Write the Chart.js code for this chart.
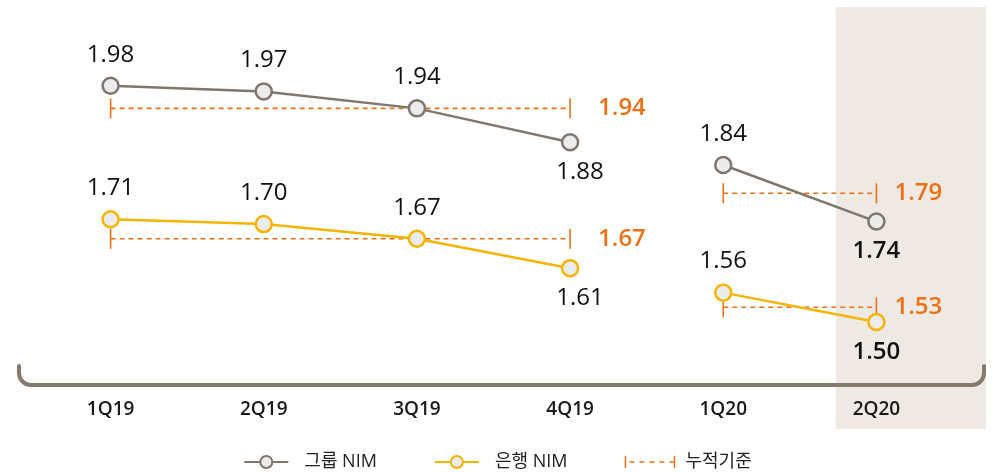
<!DOCTYPE html>
<html lang="ko">
<head>
<meta charset="utf-8">
<title>NIM</title>
<script src="https://cdn.jsdelivr.net/npm/chart.js@4.4.1/dist/chart.umd.min.js"></script>
<style>
  html, body { margin: 0; padding: 0; background: #fff; }
  canvas { display: block; }
</style>
</head>
<body>
<canvas id="chartNim" width="993" height="472"></canvas>
<script>
// ---- datos ----
const quarters = ['1Q19', '2Q19', '3Q19', '4Q19', '1Q20', '2Q20'];
const groupNim = [1.98, 1.97, 1.94, 1.88, 1.84, 1.74];
const bankNim  = [1.71, 1.70, 1.67, 1.61, 1.56, 1.50];

// 누적기준: 2019 (1Q19-4Q19), 1H20 (1Q20-2Q20)
const cumPeriods = [[0, 3], [4, 5]];
const groupCum = [1.94, 1.79];
const bankCum  = [1.67, 1.53];

const legendLabels = ['그룹 NIM', '은행 NIM', '누적기준'];

// etiquetas debajo del punto (1) o encima (0)
const groupBelow = [0, 0, 0, 1, 0, 1];
const bankBelow  = [0, 0, 0, 1, 0, 1];

const GRAY   = '#7f766c';
const YELLOW = '#f5b400';
const ORANGE = '#ec7014';
const FILL   = '#ebebeb';
const FONT   = '"Open Sans", "Noto Sans CJK KR", sans-serif';
const BREAK  = 3; // sin línea entre 4Q19 y 1Q20

function cumSeries(vals) {
    const out = quarters.map(() => null);
    cumPeriods.forEach(([a, b], k) => {
        out[a] = vals[k];
        out[b] = vals[k];
    });
    return out;
}

const skipBreak = color => ctx => ctx.p0DataIndex === BREAK ? 'rgba(0,0,0,0)' : color;

// ---- fondo 2Q20 + llave del eje + leyenda ----
const decoPlugin = {
    id: 'deco',
    beforeDraw(chart) {
        const ctx = chart.ctx;
        const x = chart.scales.x;
        const step = x.getPixelForValue(5) - x.getPixelForValue(4);
        ctx.save();
        ctx.fillStyle = '#eee9e3';
        const left = x.getPixelForValue(5) - step * 0.265;
        ctx.fillRect(left, 7, 986 - left, 422);

        // llave inferior
        const y0 = 366, y1 = 385, r = 12, xl = 19, xr = 984;
        ctx.strokeStyle = '#857a6e';
        ctx.lineWidth = 4;
        ctx.lineCap = 'round';
        ctx.beginPath();
        ctx.moveTo(xl, y0);
        ctx.arcTo(xl, y1, xl + r, y1, r);
        ctx.arcTo(xr, y1, xr, y1 - r, r);
        ctx.lineTo(xr, y0);
        ctx.stroke();
        ctx.restore();
    },
    afterDraw(chart) {
        const ctx = chart.ctx;
        ctx.save();
        ctx.font = '18px ' + FONT;
        ctx.textBaseline = 'middle';
        const yL = 462;
        const symW = [44, 44, 49];
        const gapSym = [16, 16, 11];
        const gapItem = 58;
        const widths = legendLabels.map((t, i) => symW[i] + gapSym[i] + ctx.measureText(t).width);
        const total = widths.reduce((a, b) => a + b, 0) + gapItem * 2;
        let x = 498 - total / 2;
        legendLabels.forEach((t, i) => {
            if (i < 2) {
                const c = i === 0 ? GRAY : YELLOW;
                ctx.strokeStyle = c;
                ctx.lineWidth = 2;
                ctx.beginPath();
                ctx.moveTo(x, yL);
                ctx.lineTo(x + symW[i], yL);
                ctx.stroke();
                ctx.beginPath();
                ctx.arc(x + symW[i] / 2, yL, 6, 0, Math.PI * 2);
                ctx.fillStyle = FILL;
                ctx.fill();
                ctx.stroke();
            } else {
                ctx.strokeStyle = ORANGE;
                ctx.lineWidth = 1.5;
                ctx.beginPath();
                ctx.moveTo(x, yL - 6);
                ctx.lineTo(x, yL + 6);
                ctx.moveTo(x + symW[i], yL - 6);
                ctx.lineTo(x + symW[i], yL + 6);
                ctx.stroke();
                ctx.setLineDash([5, 5]);
                ctx.beginPath();
                ctx.moveTo(x + 4, yL);
                ctx.lineTo(x + symW[i], yL);
                ctx.stroke();
                ctx.setLineDash([]);
            }
            ctx.fillStyle = '#222';
            ctx.textAlign = 'left';
            ctx.fillText(t, x + symW[i] + gapSym[i], yL);
            x += widths[i] + gapItem;
        });
        ctx.restore();
    }
};

// ---- etiquetas de valores ----
const labelPlugin = {
    id: 'nimLabels',
    afterDatasetsDraw(chart) {
        const ctx = chart.ctx;
        ctx.save();
        ctx.textBaseline = 'middle';

        [[0, groupNim, groupBelow], [1, bankNim, bankBelow]].forEach(([di, vals, below]) => {
            const meta = chart.getDatasetMeta(di);
            meta.data.forEach((pt, i) => {
                const last = i === quarters.length - 1;
                ctx.font = (last ? '600 ' : '') + '24px ' + FONT;
                ctx.fillStyle = '#111';
                ctx.textAlign = 'center';
                const dx = below[i] && i === BREAK ? 10 : 0;
                const dy = below[i] ? 30 : -31;
                ctx.fillText(vals[i].toFixed(2), pt.x + dx, pt.y + dy);
            });
        });

        [[2, groupCum], [3, bankCum]].forEach(([di, vals]) => {
            const meta = chart.getDatasetMeta(di);
            cumPeriods.forEach(([a, b], k) => {
                const pt = meta.data[b];
                ctx.font = '600 24px ' + FONT;
                ctx.fillStyle = ORANGE;
                ctx.textAlign = 'left';
                ctx.fillText(vals[k].toFixed(2), pt.x + (k === 0 ? 28 : 18), pt.y);
            });
        });
        ctx.restore();
    }
};

const nimLine = (label, data, color, axis) => ({
    label,
    data,
    yAxisID: axis,
    borderColor: color,
    borderWidth: 2.5,
    backgroundColor: FILL,
    pointBackgroundColor: FILL,
    pointBorderColor: color,
    pointBorderWidth: 2.5,
    pointRadius: 8,
    tension: 0,
    clip: false,
    segment: { borderColor: skipBreak(color) }
});

const cumLine = (label, data, axis) => ({
    label,
    data,
    yAxisID: axis,
    borderColor: ORANGE,
    borderWidth: 1.6,
    borderDash: [5, 4],
    pointStyle: 'line',
    rotation: 90,
    pointRadius: 10,
    pointBorderColor: ORANGE,
    pointBorderWidth: 1.6,
    spanGaps: true,
    clip: false,
    segment: { borderColor: skipBreak(ORANGE) }
});

new Chart(document.getElementById('chartNim').getContext('2d'), {
    type: 'line',
    data: {
        labels: quarters,
        datasets: [
            nimLine(legendLabels[0], groupNim, GRAY, 'yGroup'),
            nimLine(legendLabels[1], bankNim, YELLOW, 'yBank'),
            cumLine(legendLabels[2], cumSeries(groupCum), 'yGroup'),
            cumLine(legendLabels[2], cumSeries(bankCum), 'yBank')
        ]
    },
    options: {
        responsive: false,
        animation: false,
        layout: { padding: { left: 34, right: 40, top: 8, bottom: 13 } },
        plugins: {
            legend: { display: false },
            tooltip: { enabled: false }
        },
        scales: {
            x: {
                offset: true,
                grid: { display: false, drawTicks: false },
                border: { display: false },
                ticks: {
                    color: '#1a1a1a',
                    padding: 38,
                    font: { family: FONT, size: 19, weight: '600' }
                }
            },
            yGroup: { display: false, min: 1.495, max: 2.111 },
            yBank:  { display: false, min: 1.422, max: 2.134 }
        }
    },
    plugins: [decoPlugin, labelPlugin]
});
</script>
</body>
</html>
